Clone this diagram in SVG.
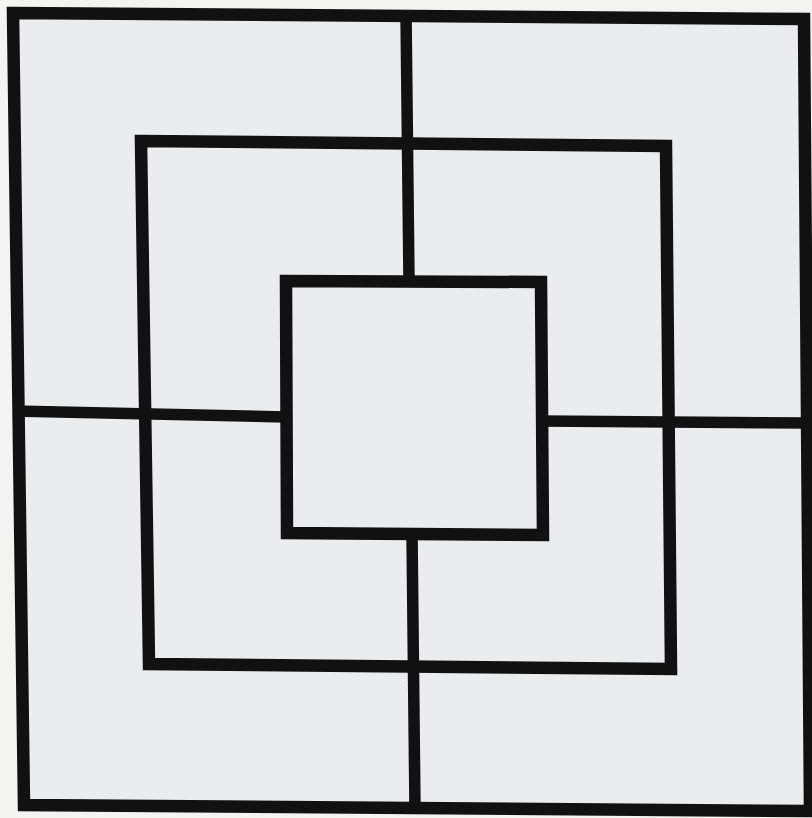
<svg xmlns="http://www.w3.org/2000/svg" width="812" height="818" viewBox="0 0 812 818">
<style>
.s{fill:none;stroke:#111111;stroke-width:12.5;stroke-linejoin:miter;stroke-linecap:square}
.l{fill:none;stroke:#111111;stroke-width:11.5}
</style>
<rect x="0" y="0" width="812" height="818" fill="#f3f4f2"/>
<polygon points="13,13 804,19 810,811 24,805" fill="#eaeced"/>
<g id="connectors">
<line class="l" x1="406" y1="13" x2="409" y2="281"/>
<line class="l" x1="412" y1="533" x2="415" y2="809"/>
<line class="l" x1="13" y1="411" x2="286" y2="417"/>
<line class="l" x1="541" y1="421" x2="808" y2="423"/>
</g>
<g id="outer"><polygon class="s" points="13,13 804,19 810,811 24,805"/></g>
<g id="middle"><polygon class="s" points="141,141 666,146 671,669 149,664"/></g>
<g id="inner"><polygon class="s" points="286,281 541,282 543,535 287,533"/></g>
</svg>
